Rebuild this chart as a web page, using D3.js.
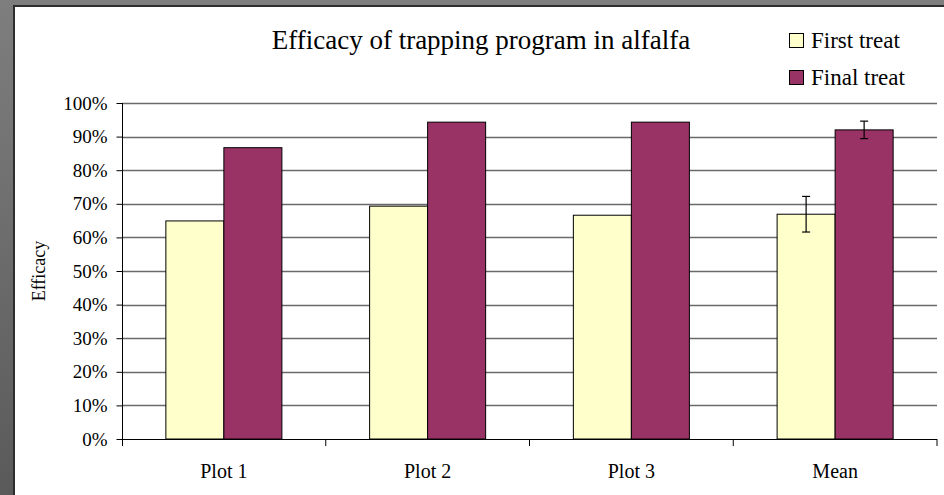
<!DOCTYPE html>
<html><head><meta charset="utf-8">
<script src="https://cdn.jsdelivr.net/npm/d3@7"></script>
<style>html,body{margin:0;padding:0;background:#7a7a7a;}svg{display:block;}
svg text{font-family:"Liberation Serif","Times New Roman",serif;}</style>
</head><body>
<svg id="c" width="944" height="495"></svg>
<script>
const categories = ["Plot 1", "Plot 2", "Plot 3", "Mean"];
const seriesNames = ["First treat", "Final treat"];
const firstTreat = [0.649, 0.693, 0.666, 0.669];
const finalTreat = [0.867, 0.943, 0.943, 0.920];
const firstErr = [null, null, null, 0.053];
const finalErr = [null, null, null, 0.026];
const yTicks = [0, 0.1, 0.2, 0.3, 0.4, 0.5, 0.6, 0.7, 0.8, 0.9, 1.0];
const colors = ["#FFFFCC", "#993366"];

const svg = d3.select("#c");
const font = "Liberation Serif";

// frame
const defs = svg.append("defs");
const g1 = defs.append("linearGradient").attr("id","fr").attr("x1",0).attr("y1",0).attr("x2",0).attr("y2",1);
g1.append("stop").attr("offset","0").attr("stop-color","#7e7e7e");
g1.append("stop").attr("offset","1").attr("stop-color","#5a5a5a");
svg.append("rect").attr("width",944).attr("height",495).attr("fill","url(#fr)");
svg.append("rect").attr("x",13).attr("y",5).attr("width",931).attr("height",490).attr("fill","#2e2e2e");
svg.append("rect").attr("x",15).attr("y",7).attr("width",929).attr("height",488).attr("fill","#ffffff");

const L = 122, R = 937, T = 103, B = 439;
const x = d3.scaleBand().domain(categories).range([L, R]).paddingInner(0).paddingOuter(0);
const xs = d3.scaleBand().domain(seriesNames).range([0, x.bandwidth()]).paddingInner(0).paddingOuter(0.756);
const y = d3.scaleLinear().domain([0, 1]).range([B, T]);

// gridlines
svg.append("g").selectAll("line").data(yTicks.filter(d => d > 0)).join("line")
  .attr("x1", L).attr("x2", R).attr("y1", d => Math.round(y(d)) + 0.5).attr("y2", d => Math.round(y(d)) + 0.5)
  .attr("stroke", "#6a6a6a").attr("stroke-width", 1.3);

// bars
const data = [firstTreat, finalTreat];
const errs = [firstErr, finalErr];
data.forEach((vals, si) => {
  svg.append("g").selectAll("rect").data(vals).join("rect")
    .attr("x", (d, i) => x(categories[i]) + xs(seriesNames[si]))
    .attr("y", d => y(d))
    .attr("width", xs.bandwidth())
    .attr("height", d => y(0) - y(d))
    .attr("fill", colors[si]).attr("stroke", "#000").attr("stroke-width", 1);
});
// error bars
errs.forEach((ev, si) => {
  const g = svg.append("g").attr("stroke", "#000").attr("stroke-width", 1.2);
  ev.forEach((e, i) => {
    if (e == null) return;
    const cx = x(categories[i]) + xs(seriesNames[si]) + xs.bandwidth() / 2;
    const v = data[si][i];
    g.append("line").attr("x1", cx).attr("x2", cx).attr("y1", y(v + e)).attr("y2", y(v - e));
    g.append("line").attr("x1", cx - 4).attr("x2", cx + 4).attr("y1", y(v + e)).attr("y2", y(v + e));
    g.append("line").attr("x1", cx - 4).attr("x2", cx + 4).attr("y1", y(v - e)).attr("y2", y(v - e));
  });
});

// y axis
const ya = d3.axisLeft(y).tickValues(yTicks).tickFormat(d3.format(".0%")).tickSize(6).tickPadding(9);
const yg = svg.append("g").attr("transform", `translate(${L + 0.5},0)`).call(ya);
yg.attr("font-family", null);
yg.select(".domain").attr("d", `M0,${T}V${B + 7}`).attr("stroke", "#000");
yg.selectAll(".tick line").attr("stroke", "#000");
yg.selectAll("text").style("font-family", font).attr("font-size", 19).attr("fill", "#000");

// x axis
const xa = d3.axisBottom(x).tickSize(0).tickPadding(24);
const xg = svg.append("g").attr("transform", `translate(0,${B + 0.5})`).call(xa);
xg.attr("font-family", null);
xg.select(".domain").attr("d", `M${L},0H${R}`).attr("stroke", "#000");
xg.selectAll("text").style("font-family", font).attr("font-size", 20).attr("fill", "#000");
svg.append("g").selectAll("line").data(categories.slice(1).concat(["__end"])).join("line")
  .attr("x1", (d) => d === "__end" ? R : x(d)).attr("x2", (d) => d === "__end" ? R : x(d))
  .attr("y1", B).attr("y2", B + 7).attr("stroke", "#000");

// y title
svg.append("text").attr("transform", `translate(45,${(T + B) / 2}) rotate(-90)`)
  .attr("text-anchor", "middle").style("font-family", font).attr("font-size", 18).text("Efficacy");

// title
svg.append("text").attr("x", 481).attr("y", 49).attr("text-anchor", "middle")
  .style("font-family", font).attr("font-size", 27).text("Efficacy of trapping program in alfalfa");

// legend
const lg = svg.append("g");
seriesNames.forEach((s, i) => {
  const yy = 33 + i * 37;
  lg.append("rect").attr("x", 789.5).attr("y", yy + 0.5).attr("width", 14).attr("height", 14)
    .attr("fill", colors[i]).attr("stroke", "#000");
  lg.append("text").attr("x", 811).attr("y", yy + 15).style("font-family", font).attr("font-size", 23).text(s);
});
</script>
</body></html>
